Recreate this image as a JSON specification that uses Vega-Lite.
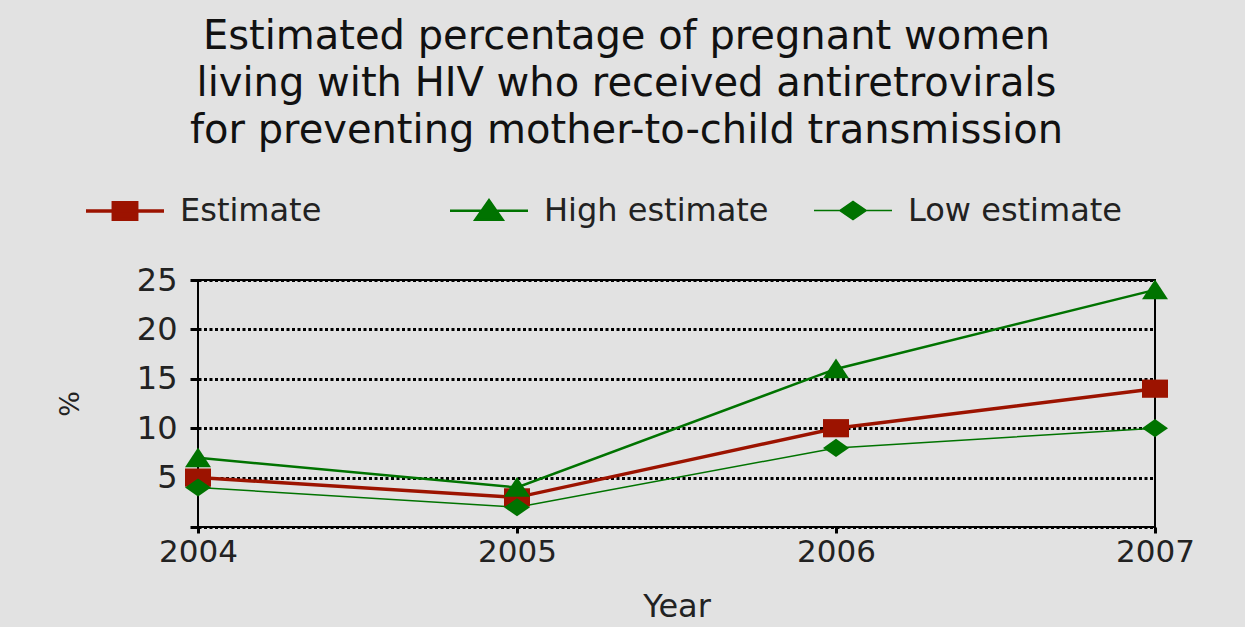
{
  "$schema": "https://vega.github.io/schema/vega-lite/v6.json",
  "autosize": {"type": "none"},
  "width": 957,
  "height": 247,
  "padding": {"left": 198, "top": 280, "right": 90, "bottom": 100},
  "background": "#e2e2e2",
  "config": {
    "view": {"stroke": "#000000", "strokeWidth": 2, "fill": null},
    "font": "DejaVu Sans"
  },
  "title": {
    "text": [
      "Estimated percentage of pregnant women",
      "living with HIV who received antiretrovirals",
      "for preventing mother-to-child transmission"
    ],
    "font": "DejaVu Sans",
    "fontSize": 40,
    "fontWeight": "normal",
    "lineHeight": 47,
    "color": "#111111",
    "anchor": "middle",
    "frame": "group",
    "dx": -50,
    "offset": 19
  },
  "data": {
    "values": [
      {"year": 2004, "series": "Estimate", "value": 5},
      {"year": 2005, "series": "Estimate", "value": 3},
      {"year": 2006, "series": "Estimate", "value": 10},
      {"year": 2007, "series": "Estimate", "value": 14},
      {"year": 2004, "series": "High estimate", "value": 7},
      {"year": 2005, "series": "High estimate", "value": 4},
      {"year": 2006, "series": "High estimate", "value": 16},
      {"year": 2007, "series": "High estimate", "value": 24},
      {"year": 2004, "series": "Low estimate", "value": 4},
      {"year": 2005, "series": "Low estimate", "value": 2},
      {"year": 2006, "series": "Low estimate", "value": 8},
      {"year": 2007, "series": "Low estimate", "value": 10}
    ]
  },
  "encoding": {
    "x": {
      "field": "year",
      "type": "quantitative",
      "title": "Year",
      "scale": {"domain": [2004, 2007], "nice": false, "zero": false},
      "axis": {
        "values": [2004, 2005, 2006, 2007],
        "format": "d",
        "grid": false,
        "domain": false,
        "tickColor": "#000000",
        "tickWidth": 3,
        "tickSize": 6,
        "labelFont": "DejaVu Sans",
        "labelFontSize": 31,
        "labelColor": "#222222",
        "labelPadding": 4,
        "labelFlush": false,
        "titleFont": "DejaVu Sans",
        "titleFontSize": 32,
        "titleFontWeight": "normal",
        "titleColor": "#222222",
        "titlePadding": 24
      }
    },
    "y": {
      "field": "value",
      "type": "quantitative",
      "title": "%",
      "scale": {"domain": [0, 25], "nice": false},
      "axis": {
        "values": [0, 5, 10, 15, 20, 25],
        "labelExpr": "datum.value == 0 ? '' : datum.label",
        "grid": true,
        "gridColor": "#000000",
        "gridDash": [3, 2.5],
        "gridWidth": 3,
        "gridOpacity": 1,
        "domain": false,
        "tickColor": "#000000",
        "tickWidth": 3,
        "tickSize": 8,
        "labelFont": "DejaVu Sans",
        "labelFontSize": 32,
        "labelColor": "#222222",
        "labelPadding": 13,
        "titleFont": "DejaVu Sans",
        "titleFontSize": 27,
        "titleFontWeight": "normal",
        "titleColor": "#222222",
        "titlePadding": 52
      }
    },
    "color": {
      "field": "series",
      "type": "nominal",
      "scale": {
        "domain": ["Estimate", "High estimate", "Low estimate"],
        "range": ["#9c1300", "#007300", "#007300"]
      },
      "legend": {
        "orient": "none",
        "legendX": -114,
        "legendY": -110,
        "direction": "horizontal",
        "columns": 3,
        "gridAlign": "all",
        "columnPadding": 40,
        "title": null,
        "symbolSize": 6084,
        "symbolType": "M-1,0H1",
        "labelOffset": 14,
        "labelLimit": 400,
        "labelFont": "DejaVu Sans",
        "labelFontSize": 32,
        "labelColor": "#222222",
        "encode": {
          "symbols": {
            "update": {
              "shape": {"signal": "datum.value === 'Estimate' ? 'M-1,0H1M-0.3,-0.21H0.3V0.21H-0.3Z' : datum.value === 'High estimate' ? 'M-1,0H1M-0.35,0.23L0,-0.27L0.35,0.23Z' : 'M-1,0H1M-0.34,0L0,-0.23L0.34,0L0,0.23Z'"},
              "fill": {"signal": "datum.value === 'Estimate' ? '#9c1300' : '#007300'"},
              "stroke": {"signal": "datum.value === 'Estimate' ? '#9c1300' : '#007300'"},
              "strokeWidth": {"signal": "datum.value === 'Estimate' ? 3 : 1.5"},
              "opacity": {"value": 1}
            }
          }
        }
      }
    }
  },
  "layer": [
    {
      "mark": {"type": "line"},
      "encoding": {
        "strokeWidth": {
          "field": "series",
          "type": "nominal",
          "scale": {"domain": ["Estimate", "High estimate", "Low estimate"], "range": [3.5, 1.5, 1.5]},
          "legend": null
        }
      }
    },
    {
      "transform": [{"filter": "datum.series === 'Estimate'"}],
      "mark": {"type": "point", "filled": true, "opacity": 1, "size": 676, "shape": "M-1,-0.7H1V0.7H-1Z"}
    },
    {
      "transform": [{"filter": "datum.series === 'High estimate'"}],
      "mark": {"type": "point", "filled": true, "opacity": 1, "size": 676, "shape": "M-1,0.72L0,-0.8L1,0.72Z"}
    },
    {
      "transform": [{"filter": "datum.series === 'Low estimate'"}],
      "mark": {"type": "point", "filled": true, "opacity": 1, "size": 676, "shape": "M-1,0L0,-0.7L1,0L0,0.7Z"}
    }
  ]
}
